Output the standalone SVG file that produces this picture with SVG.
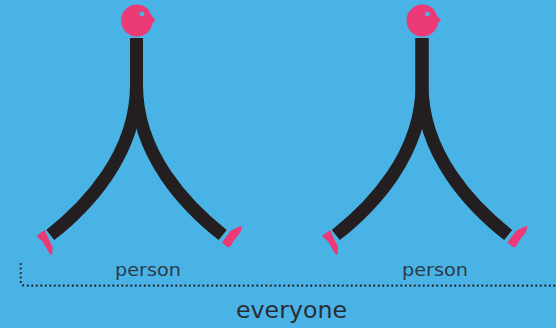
<svg xmlns="http://www.w3.org/2000/svg" width="556" height="328" viewBox="0 0 556 328">
<defs>
<style>
.leg{fill:none;stroke:#231f20;stroke-width:13}
.pink{fill:#ec3a76}
.eye{fill:#4ab3e6}
.t{font-family:"DejaVu Sans",sans-serif;fill:#2b3a48;text-anchor:middle}
</style>
<g id="figure">
<path class="leg" d="M136.500 38V85C136.500 155 86 207 50.300 235"/>
<path class="leg" d="M136.500 38V85C136.500 155 187 207 222.700 235"/>
<path class="pink" d="M137 4.500C144 4.500 149.500 9 151 15L155.500 20.500L152.800 22.500C151.500 30.500 145 36.500 137 36.500C128 36.500 121 29.500 121 20.500C121 11.500 128 4.500 137 4.500Z"/>
<circle class="eye" cx="142" cy="14" r="2.400"/>
<path class="pink" d="M36.800 235.500L44.800 230L47 235.500L52.500 247L52.200 255L49.800 254L42.500 241.500L37.200 237Z"/>
<path class="pink" d="M242 225.500L240.500 232L234 240.500L229.800 247.200L227.300 247L221.800 242.500L231 230.500L236.700 227.800Z"/>
</g>
</defs>
<rect width="556" height="328" fill="#4ab3e6"/>
<g id="person-1"><use href="#figure"/></g>
<g id="person-2"><use href="#figure" x="285.500"/></g>
<g id="connectors">
<path d="M20.700 264V281.500Q20.700 285.700 25 285.700H556" fill="none" stroke="#231f20" stroke-width="2.200" stroke-linecap="round" stroke-dasharray="0 4.500"/>
</g>
<g id="labels">
<text class="t" x="148" y="276" font-size="17" textLength="66" lengthAdjust="spacingAndGlyphs">person</text>
<text class="t" x="435" y="276" font-size="17" textLength="66" lengthAdjust="spacingAndGlyphs">person</text>
<text class="t" x="291.500" y="318" font-size="23" style="fill:#2a2c33" textLength="111" lengthAdjust="spacingAndGlyphs">everyone</text>
</g>
</svg>
